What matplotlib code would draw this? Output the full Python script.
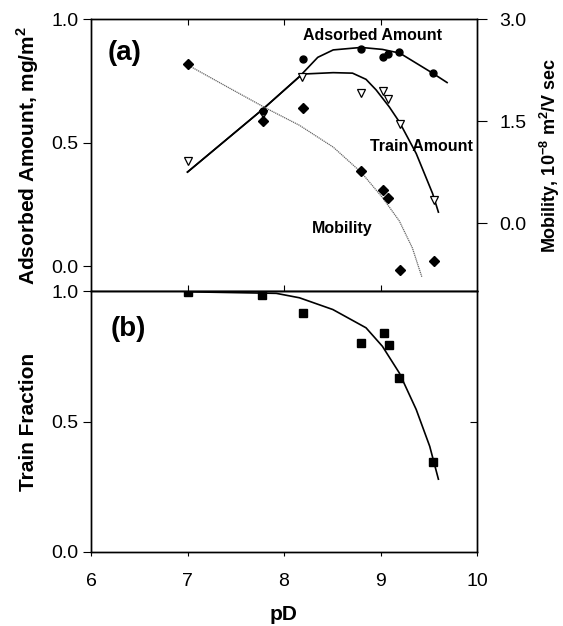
import matplotlib
matplotlib.use("Agg")
import matplotlib.pyplot as plt

plt.rcParams['font.family'] = ['Liberation Sans', 'DejaVu Sans']
plt.rcParams['mathtext.fontset'] = 'custom'
plt.rcParams['mathtext.rm'] = 'Liberation Sans'
plt.rcParams['mathtext.bf'] = 'Liberation Sans:bold'

# ---- panel (a) data ----
pd_ads = [7.78, 8.20, 8.80, 9.03, 9.08, 9.19, 9.54]
ads = [0.629, 0.838, 0.878, 0.848, 0.859, 0.867, 0.781]

pd_train = [7.0, 7.78, 8.185, 8.80, 9.03, 9.08, 9.20, 9.55]
train = [0.426, 0.615, 0.765, 0.70, 0.71, 0.678, 0.575, 0.27]

pd_mob = [7.0, 7.78, 8.20, 8.80, 9.03, 9.08, 9.20, 9.55]
mob = [2.34, 1.50, 1.69, 0.76, 0.49, 0.375, -0.69, -0.56]

# fitted curves
pd_ads_fit = [7.0, 7.78, 8.16, 8.35, 8.51, 8.80, 9.02, 9.20, 9.54, 9.69]
ads_fit = [0.381, 0.635, 0.767, 0.845, 0.875, 0.885, 0.877, 0.862, 0.781, 0.743]

pd_train_fit = [7.0, 7.78, 8.16, 8.23, 8.51, 8.71, 8.85, 8.955, 9.09, 9.195, 9.37, 9.54, 9.60]
train_fit = [0.381, 0.635, 0.767, 0.778, 0.783, 0.781, 0.756, 0.713, 0.645, 0.584, 0.456, 0.294, 0.219]

pd_mob_fit = [7.0, 7.47, 7.82, 8.16, 8.51, 8.80, 9.02, 9.195, 9.33, 9.43]
mob_fit = [2.326, 1.956, 1.684, 1.437, 1.116, 0.745, 0.375, 0.030, -0.366, -0.80]

# ---- panel (b) data ----
pd_frac = [7.006, 7.776, 8.196, 8.80, 9.04, 9.085, 9.195, 9.547]
frac = [0.996, 0.984, 0.917, 0.799, 0.840, 0.793, 0.665, 0.346]

pd_frac_fit = [7.0, 7.92, 8.16, 8.506, 8.85, 9.02, 9.195, 9.37, 9.51, 9.60]
frac_fit = [0.997, 0.991, 0.974, 0.929, 0.859, 0.788, 0.686, 0.546, 0.405, 0.279]

yticks = [0.0, 0.5, 1.0]
ytick_labels = ['0.0', '0.5', '1.0']
mob_ticks = [0.0, 1.5, 3.0]
mob_tick_labels = ['0.0', '1.5', '3.0']
xticks = [6, 7, 8, 9, 10]

fig = plt.figure(figsize=(5.63, 6.26), dpi=100)
L, R = 91 / 563, 477 / 563
ax1 = fig.add_axes([L, 1 - 291 / 626, R - L, (291 - 19) / 626])
ax3 = fig.add_axes([L, 1 - 552 / 626, R - L, (552 - 291) / 626])
ax2 = ax1.twinx()

# panel (a)
ax1.plot(pd_ads_fit, ads_fit, color='black', lw=1.2)
ax1.plot(pd_train_fit, train_fit, color='black', lw=1.2)
ax1.plot(pd_train, train, 'v', mfc='white', mec='black', ms=5.5, mew=0.9)
ax1.plot(pd_ads, ads, 'o', color='black', ms=5)
ax2.plot(pd_mob_fit, mob_fit, color='#666666', lw=0.9, ls=(0, (1, 0.6)))
ax2.plot(pd_mob, mob, 'D', color='black', ms=5.3)

ax1.set_xlim(6, 10)
ax1.set_ylim(-0.1, 1.0)
ax1.set_yticks(yticks)
ax1.set_yticklabels(ytick_labels)
ax1.set_xticks(xticks[1:-1])
ax1.tick_params(axis='x', direction='in', top=True, bottom=True, labelbottom=False, length=4)
ax1.tick_params(axis='y', direction='out', labelsize=14, length=6, pad=3)
ax2.set_ylim(-1, 3)
ax2.set_yticks(mob_ticks)
ax2.set_yticklabels(mob_tick_labels)
ax2.tick_params(axis='y', direction='out', labelsize=14, length=7, pad=9)

ax1.set_ylabel(r'Adsorbed Amount, mg/m$^\mathbf{2}$', fontsize=15, fontweight='bold', va='center')
ax1.yaxis.set_label_coords(-0.163, 0.5)
ax2.set_ylabel(r'Mobility, 10$^\mathbf{-8}$ m$^\mathbf{2}$/V sec', fontsize=13,
               fontweight='bold', va='center', rotation=90)
ax2.yaxis.set_label_coords(1.189, 0.5)

ax1.text(6.35, 0.863, '(a)', fontsize=20, fontweight='bold', ha='center', va='center')
ax1.text(8.92, 0.932, 'Adsorbed Amount', fontsize=11.5, fontweight='bold', ha='center', va='center')
ax1.text(9.42, 0.486, 'Train Amount', fontsize=11.5, fontweight='bold', ha='center', va='center')
ax1.text(8.60, 0.154, 'Mobility', fontsize=11.5, fontweight='bold', ha='center', va='center')

# panel (b)
ax3.plot(pd_frac_fit, frac_fit, color='black', lw=1.2)
ax3.plot(pd_frac, frac, 's', color='black', ms=5.5)
ax3.set_xlim(6, 10)
ax3.set_ylim(0, 1.0)
ax3.set_yticks(yticks)
ax3.set_yticklabels(ytick_labels)
ax3.set_xticks(xticks)
ax3.tick_params(axis='x', direction='out', labelsize=14, length=3, pad=12)
ax3.tick_params(axis='y', direction='out', labelsize=14, length=6, pad=3)
ax3.set_xlabel('pD', fontsize=15, fontweight='bold', va='center')
ax3.xaxis.set_label_coords(0.5, -0.241)
ax3.set_ylabel('Train Fraction', fontsize=15, fontweight='bold', va='center')
ax3.yaxis.set_label_coords(-0.163, 0.5)
ax3.text(6.386, 0.853, '(b)', fontsize=20, fontweight='bold', ha='center', va='center')

# inward ticks on the right spine of panel (b)
ax4 = ax3.twinx()
ax4.set_ylim(0, 1.0)
ax4.set_yticks(yticks[1:])
ax4.tick_params(axis='y', direction='in', length=5, labelright=False)

for ax in (ax1, ax2, ax3, ax4):
    for s in ax.spines.values():
        s.set_linewidth(1.0)

fig.savefig('out.png', dpi=100)
